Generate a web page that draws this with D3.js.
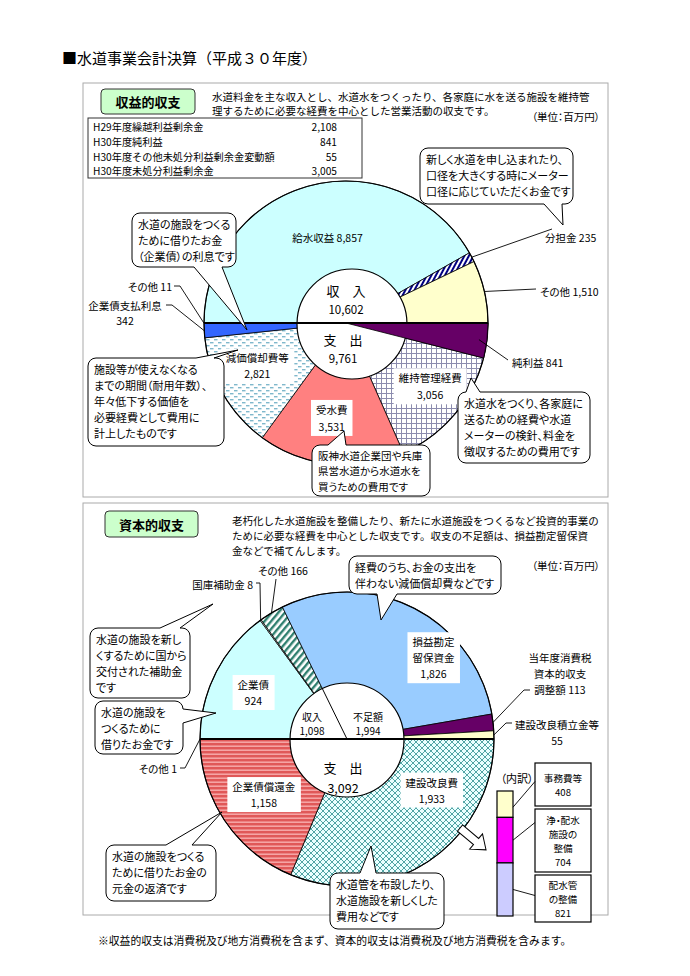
<!DOCTYPE html>
<html>
<head>
<meta charset="utf-8">
<script src="https://cdn.jsdelivr.net/npm/d3@7"></script>
<style>
body { margin: 0; background: #fff; }
text { font-family: "Noto Sans CJK JP", "Noto Sans", sans-serif; fill: #000; font-feature-settings: "palt"; }
text.wide { font-feature-settings: normal; }
</style>
</head>
<body>
<div id="chart"></div>
<script>
// 収益的収支 (上の円)
var incomeLabels = ["給水収益", "分担金", "その他"];
var incomeValues = [8857, 235, 1510];
var expenseLabels = ["純利益", "維持管理経費", "受水費", "減価償却費等", "企業債支払利息", "その他"];
var expenseValues = [841, 3056, 3531, 2821, 342, 11];
var incomeTotal = "10,602";
var expenseTotal = "9,761";

// 資本的収支 (下の円)
var capInLabels = ["企業債", "国庫補助金", "その他", "損益勘定留保資金", "当年度消費税資本的収支調整額", "建設改良積立金等"];
var capInValues = [924, 8, 166, 1826, 113, 55];
var capOutLabels = ["建設改良費", "企業債償還金", "その他"];
var capOutValues = [1933, 1158, 1];
var capInTotal = "1,098";
var shortTotal = "1,994";
var capOutTotal = "3,092";

// 建設改良費の内訳
var detailLabels = ["事務費等", "浄・配水施設の整備", "配水管の整備"];
var detailValues = [408, 704, 821];

// 利益剰余金の表
var tableLabels = ["H29年度繰越利益剰余金", "H30年度純利益", "H30年度その他未処分利益剰余金変動額", "H30年度未処分利益剰余金"];
var tableValues = ["2,108", "841", "55", "3,005"];

var incomeFills = ["#ccffff", "url(#pBundan)", "#ffffcc"];
var expenseFills = ["#660066", "url(#pGrid)", "#ff8080", "url(#pDots)", "#3366ff", "#3366ff"];
var capInFills = ["#ccffff", "#ffffff", "url(#pGreen)", "#99ccff", "#660066", "#ffffcc"];
var capOutFills = ["url(#pCross)", "url(#pRed)", "#ff8080"];
var detailFills = ["#ffffcc", "#ff00ff", "#ccccff"];

var fmt = d3.format(",");

var svg = d3.select("#chart").append("svg")
    .attr("width", 690)
    .attr("height", 976);

svg.append("rect").attr("width", 690).attr("height", 976).attr("fill", "#fff");

//patterns
var defs = svg.append("defs");
function pattern(id, w, h, bg, transform) {
    var p = defs.append("pattern").attr("id", id)
        .attr("patternUnits", "userSpaceOnUse")
        .attr("width", w).attr("height", h);
    if (transform) p.attr("patternTransform", transform);
    p.append("rect").attr("width", w).attr("height", h).attr("fill", bg);
    return p;
}
pattern("pBundan", 4, 4, "#fff", "rotate(28)")
    .append("rect").attr("width", 2).attr("height", 4).attr("fill", "#000080");
pattern("pGrid", 5, 5, "#fff")
    .append("path").attr("d", "M0 0.5H5M0.5 0V5").attr("stroke", "#8c8cae").attr("stroke-width", 1);
var pd = pattern("pDots", 8, 6, "#fff");
pd.append("rect").attr("x", 0).attr("y", 1).attr("width", 3.5).attr("height", 1.4).attr("fill", "#7fb8cc");
pd.append("rect").attr("x", 4).attr("y", 4).attr("width", 3.5).attr("height", 1.4).attr("fill", "#7fb8cc");
pattern("pCross", 6, 6, "#eaffff")
    .append("path").attr("d", "M0 0L6 6M6 0L0 6").attr("stroke", "#3f9a9a").attr("stroke-width", 0.9);
pattern("pRed", 4, 4, "#e05858")
    .append("rect").attr("y", 2.6).attr("width", 4).attr("height", 1.1).attr("fill", "#ffc4c4");
pattern("pGreen", 5, 5, "#fff", "rotate(40)")
    .append("rect").attr("width", 2.4).attr("height", 5).attr("fill", "#2f7f6f");

function polar(c, r, a) {
    return [c[0] + r * Math.sin(a), c[1] - r * Math.cos(a)];
}
function mid(d) {
    return (d.startAngle + d.endAngle) / 2;
}

function addText(parent, x, y, lines, o) {
    o = o || {};
    var size = o.size || 10;
    var lh = o.lh || 15;
    var grp = parent.append("g");
    var t = grp.append("text")
        .attr("class", o.wide ? "wide" : null)
        .attr("font-size", size)
        .attr("text-anchor", o.anchor || "middle")
        .attr("font-weight", o.bold ? "bold" : null);
    lines.forEach(function(s, i) {
        t.append("tspan")
            .attr("x", x)
            .attr("y", y + i * lh)
            .attr("dominant-baseline", "central")
            .text(s);
    });
    if (o.bg) {
        var b = t.node().getBBox();
        grp.insert("rect", "text")
            .attr("x", b.x - 5).attr("y", b.y - 2)
            .attr("width", b.width + 10).attr("height", b.height + 4)
            .attr("fill", "#fff");
    }
    return grp;
}

function leader(pts) {
    svg.append("path")
        .attr("d", d3.line()(pts))
        .attr("fill", "none")
        .attr("stroke", "#000")
        .attr("stroke-width", 0.9);
}

function callout(x, y, w, h, side, p1, p2, tip, lines, lh, size) {
    var r = 8, p = d3.path();
    p.moveTo(x + r, y);
    if (side == "top") { p.lineTo(x + p1, y); p.lineTo(tip[0], tip[1]); p.lineTo(x + p2, y); }
    p.lineTo(x + w - r, y);
    p.arcTo(x + w, y, x + w, y + r, r);
    if (side == "right") { p.lineTo(x + w, y + p1); p.lineTo(tip[0], tip[1]); p.lineTo(x + w, y + p2); }
    p.lineTo(x + w, y + h - r);
    p.arcTo(x + w, y + h, x + w - r, y + h, r);
    if (side == "bottom") { p.lineTo(x + p2, y + h); p.lineTo(tip[0], tip[1]); p.lineTo(x + p1, y + h); }
    p.lineTo(x + r, y + h);
    p.arcTo(x, y + h, x, y + h - r, r);
    if (side == "left") { p.lineTo(x, y + p2); p.lineTo(tip[0], tip[1]); p.lineTo(x, y + p1); }
    p.lineTo(x, y + r);
    p.arcTo(x, y, x + r, y, r);
    p.closePath();
    svg.append("path").attr("d", p.toString())
        .attr("fill", "#fff").attr("stroke", "#000").attr("stroke-width", 1);
    addText(svg, x + 6, y + 3 + lh / 2, lines, { size: size || 11, lh: lh, anchor: "start" });
}

function halfPie(g, values, fills, start, end, r) {
    var arcs = d3.pie().sort(null).startAngle(start).endAngle(end)(values);
    var arc = d3.arc().innerRadius(0).outerRadius(r);
    g.selectAll(null)
        .data(arcs)
        .enter()
        .append("path")
        .attr("d", arc)
        .attr("fill", function(d, i) { return fills[i]; })
        .attr("stroke", "#000")
        .attr("stroke-width", 0.8);
    return arcs;
}

// title
addText(svg, 62, 57, ["■水道事業会計決算（平成３０年度）"], { size: 15, anchor: "start", wide: true });

// panels
svg.append("rect").attr("x", 83).attr("y", 83).attr("width", 525).attr("height", 414)
    .attr("fill", "none").attr("stroke", "#aaa");
svg.append("rect").attr("x", 83).attr("y", 503).attr("width", 525).attr("height", 412)
    .attr("fill", "none").attr("stroke", "#aaa");

// ---------- 収益的収支 ----------
svg.append("rect").attr("x", 101).attr("y", 89).attr("width", 94).attr("height", 25).attr("rx", 4)
    .attr("fill", "#ccffcc").attr("stroke", "#333");
addText(svg, 148, 101.5, ["収益的収支"], { size: 13, bold: true });
addText(svg, 212, 96, ["水道料金を主な収入とし、水道水をつくったり、各家庭に水を送る施設を維持管",
    "理するために必要な経費を中心とした営業活動の収支です。"], { size: 10.5, anchor: "start", wide: true, lh: 14.5 });
addText(svg, 600, 116, ["（単位：百万円）"], { size: 10.5, anchor: "end" });

svg.append("rect").attr("x", 88).attr("y", 118).attr("width", 274).attr("height", 60)
    .attr("fill", "#fff").attr("stroke", "#333");
tableLabels.forEach(function(s, i) {
    addText(svg, 93, 126.8 + i * 14.7, [s], { size: 10.2, anchor: "start", wide: true });
    addText(svg, 337, 126.8 + i * 14.7, [tableValues[i]], { size: 10.2, anchor: "end" });
});

var TC = [346, 323], R1 = 142;
var g1 = svg.append("g").attr("transform", "translate(" + TC + ")");
var inArcs = halfPie(g1, incomeValues, incomeFills, -Math.PI / 2, Math.PI / 2, R1);
var exArcs = halfPie(g1, expenseValues, expenseFills, Math.PI / 2, Math.PI * 1.5, R1);
g1.append("circle").attr("r", R1).attr("fill", "none").attr("stroke", "#000").attr("stroke-width", 1.2);
g1.append("circle").attr("cx", 6).attr("cy", 1).attr("r", 55)
    .attr("fill", "#fff").attr("stroke", "#000").attr("stroke-width", 1.2);
// 純利益 is the gap between 収入 and 支出, drawn through the centre
g1.append("path")
    .attr("d", d3.arc().innerRadius(0).outerRadius(R1)(exArcs[0]))
    .attr("fill", expenseFills[0]).attr("stroke", "#000").attr("stroke-width", 0.8);
g1.append("line").attr("x1", -R1).attr("x2", R1).attr("stroke", "#000").attr("stroke-width", 2);

addText(svg, 346, 290, ["収　入"], { size: 13 });
addText(svg, 346, 309, [incomeTotal], { size: 11.5 });
addText(svg, 343, 339, ["支　出"], { size: 13 });
addText(svg, 343, 358, [expenseTotal], { size: 11.5 });

var p;
p = polar(TC, 88, mid(inArcs[0]));
addText(svg, p[0] + 4, p[1], [incomeLabels[0] + " " + fmt(incomeValues[0])], { size: 10.5 });
p = polar(TC, 100, mid(exArcs[3]));
addText(svg, p[0] - 2, p[1] - 15, [expenseLabels[3], fmt(expenseValues[3])], { bg: true, lh: 16, size: 10.5 });
p = polar(TC, 105, mid(exArcs[1]));
addText(svg, p[0] + 4, p[1] - 13, [expenseLabels[1], fmt(expenseValues[1])], { bg: true, lh: 17, size: 10.5 });
p = polar(TC, 96, mid(exArcs[2]));
addText(svg, p[0] - 4, p[1] - 9, [expenseLabels[2], fmt(expenseValues[2])], { bg: true, lh: 17, size: 10.5 });

// outside labels
leader([[552, 229], polar(TC, R1, mid(inArcs[1]))]);
addText(svg, 545, 237, [incomeLabels[1] + " " + fmt(incomeValues[1])], { anchor: "start", size: 10.5 });
leader([[536, 289], polar(TC, R1, mid(inArcs[2]))]);
addText(svg, 540, 291, [incomeLabels[2] + " " + fmt(incomeValues[2])], { anchor: "start", size: 10.5 });
leader([[508, 360], polar(TC, R1 - 8, mid(exArcs[0]))]);
addText(svg, 512, 362, [expenseLabels[0] + " " + fmt(expenseValues[0])], { anchor: "start", size: 10.5 });
leader([[174, 286], [180, 286], polar(TC, R1, mid(exArcs[5]))]);
addText(svg, 172, 286, [expenseLabels[5] + "  " + fmt(expenseValues[5])], { anchor: "end", size: 10.5 });
leader([[166, 305], [172, 305], polar(TC, R1, mid(exArcs[4]))]);
addText(svg, 125, 305, [expenseLabels[4], fmt(expenseValues[4])], { lh: 15.5, size: 10.5 });

callout(420, 148, 153, 56, "bottom", 124, 142, [563, 225],
    ["新しく水道を申し込まれたり、", "口径を大きくする時にメーター", "口径に応じていただくお金です"], 16);
callout(132, 213, 104, 54, "bottom", 62, 90, [247, 330],
    ["水道の施設をつくる", "ために借りたお金", "（企業債）の利息です"], 16);
callout(88, 358, 136, 88, "top", 108, 126, [238, 350],
    ["施設等が使えなくなる", "までの期間（耐用年数）、", "年々低下する価値を", "必要経費として費用に", "計上したものです"], 16);
callout(312, 445, 118, 51, "top", 16, 34, [344, 431],
    ["阪神水道企業団や兵庫", "県営水道から水道水を", "買うための費用です"], 15.3, 10.5);
callout(458, 392, 132, 71, "top", 8, 22, [471, 378],
    ["水道水をつくり、各家庭に", "送るための経費や水道", "メーターの検針、料金を", "徴収するための費用です"], 16);

// ---------- 資本的収支 ----------
svg.append("rect").attr("x", 105).attr("y", 511).attr("width", 93).attr("height", 26).attr("rx", 4)
    .attr("fill", "#ccffcc").attr("stroke", "#333");
addText(svg, 151.5, 524, ["資本的収支"], { size: 13, bold: true });
addText(svg, 232, 520, ["老朽化した水道施設を整備したり、新たに水道施設をつくるなど投資的事業の",
    "ために必要な経費を中心とした収支です。収支の不足額は、損益勘定留保資",
    "金などで補てんします。"], { size: 10.5, anchor: "start", wide: true });
addText(svg, 600, 565, ["（単位：百万円）"], { size: 10.5, anchor: "end" });

var BC = [347, 739], R2 = 147;
var g2 = svg.append("g").attr("transform", "translate(" + BC + ")");
var ciArcs = halfPie(g2, capInValues, capInFills, -Math.PI / 2, Math.PI / 2, R2);
var coArcs = halfPie(g2, capOutValues, capOutFills, Math.PI / 2, Math.PI * 1.5, R2);
g2.append("circle").attr("r", R2).attr("fill", "none").attr("stroke", "#000").attr("stroke-width", 1.2);
g2.append("circle").attr("cx", 0).attr("cy", 1).attr("r", 57)
    .attr("fill", "#fff").attr("stroke", "#000").attr("stroke-width", 1.2);
// 収入 / 不足額 の境目
var splitA = ciArcs[2].endAngle;
g2.append("line").attr("x2", 57 * Math.sin(splitA)).attr("y2", -57 * Math.cos(splitA))
    .attr("stroke", "#000").attr("stroke-width", 1);
g2.append("line").attr("x1", -R2).attr("x2", R2).attr("stroke", "#000").attr("stroke-width", 2);

addText(svg, 312, 716, ["収入", capInTotal], { size: 10, lh: 14.6 });
addText(svg, 368, 716, ["不足額", shortTotal], { size: 10, lh: 14.6 });
addText(svg, 343, 767, ["支　出"], { size: 13 });
addText(svg, 343, 787, [capOutTotal], { size: 12.5 });

p = polar(BC, 105, mid(ciArcs[0]));
addText(svg, p[0], p[1] - 7, [capInLabels[0], fmt(capInValues[0])], { bg: true, lh: 16, size: 10.5 });
p = polar(BC, 118, mid(ciArcs[3]) + 0.35);
addText(svg, p[0], p[1] - 17, ["損益勘定", "留保資金", fmt(capInValues[3])], { bg: true, lh: 16, size: 10.5 });
p = polar(BC, 100, mid(coArcs[1]));
addText(svg, p[0], p[1] - 8, [capOutLabels[1], fmt(capOutValues[1])], { bg: true, lh: 16, size: 10.5 });
p = polar(BC, 99, mid(coArcs[0]) - 0.44);
addText(svg, p[0], p[1] - 8, [capOutLabels[0], fmt(capOutValues[0])], { bg: true, lh: 16, size: 10.5 });

leader([[256, 583], [260, 583], polar(BC, R2, mid(ciArcs[1]))]);
addText(svg, 253, 584, [capInLabels[1] + " " + fmt(capInValues[1])], { anchor: "end", size: 10.5 });
leader([[276, 579], polar(BC, R2, mid(ciArcs[2]))]);
addText(svg, 258, 570, [capInLabels[2] + " " + fmt(capInValues[2])], { anchor: "start", size: 10.5 });
leader([[530, 690], [524, 690], polar(BC, R2, mid(ciArcs[4]))]);
addText(svg, 560, 657, ["当年度消費税", "資本的収支", "調整額 " + fmt(capInValues[4])], { lh: 16, size: 10.5 });
leader([[512, 723], [506, 723], polar(BC, R2, mid(ciArcs[5]))]);
addText(svg, 557, 724, [capInLabels[5], fmt(capInValues[5])], { lh: 16, size: 10.5 });
leader([[180, 768], [185, 768], polar(BC, R2, mid(coArcs[2]))]);
addText(svg, 177, 768, [capOutLabels[2] + " " + fmt(capOutValues[2])], { anchor: "end", size: 10.5 });

callout(349, 556, 152, 38, "bottom", 28, 48, [381, 620],
    ["経費のうち、お金の支出を", "伴わない減価償却費などです"], 16);
callout(90, 628, 100, 70, "top", 70, 90, [213, 604],
    ["水道の施設を新し", "くするために国から", "交付された補助金", "です"], 16);
callout(95, 701, 88, 53, "right", 8, 22, [216, 713],
    ["水道の施設を", "つくるために", "借りたお金です"], 16);
callout(106, 845, 110, 56, "top", 60, 86, [222, 812],
    ["水道の施設をつくる", "ために借りたお金の", "元金の返済です"], 16);
callout(330, 873, 114, 56, "top", 30, 46, [371, 846],
    ["水道管を布設したり、", "水道施設を新しくした", "費用などです"], 16);

// 内訳
svg.append("path")
    .attr("d", "M0 -4H21V-10L34 0L21 10V4H0Z")
    .attr("transform", "translate(460,828) rotate(40)")
    .attr("fill", "#fff").attr("stroke", "#000");

var barY = d3.scaleLinear()
    .domain([0, d3.sum(detailValues)])
    .range([791, 916]);
var cum = d3.cumsum(detailValues);
svg.selectAll(".detail")
    .data(detailValues)
    .enter()
    .append("rect")
    .attr("class", "detail")
    .attr("x", 497)
    .attr("width", 16)
    .attr("y", function(d, i) { return barY(cum[i] - d); })
    .attr("height", function(d) { return barY(d) - barY(0); })
    .attr("fill", function(d, i) { return detailFills[i]; })
    .attr("stroke", "#000")
    .attr("stroke-width", 1.2);
addText(svg, 517, 778, ["（内訳）"], { size: 11 });

var boxes = [[763, 43], [809, 63], [875, 47]];
var boxLines = [["事務費等"], ["浄・配水", "施設の", "整備"], ["配水管", "の整備"]];
boxes.forEach(function(b, i) {
    svg.append("rect").attr("x", 535).attr("y", b[0]).attr("width", 56).attr("height", b[1])
        .attr("fill", "#fff").attr("stroke", "#000").attr("stroke-width", 1.2);
    var lines = boxLines[i].concat([String(detailValues[i])]);
    var lh = 14;
    addText(svg, 563, b[0] + b[1] / 2 - (lines.length - 1) * lh / 2, lines, { size: 9.6, lh: lh });
    var yb = (barY(cum[i] - detailValues[i]) + barY(cum[i])) / 2;
    leader([[513, yb + (i == 0 ? 3 : 0)], [535, b[0] + b[1] / 2 - (i == 1 ? 18 : 3)]]);
});

addText(svg, 98, 940, ["※収益的収支は消費税及び地方消費税を含まず、資本的収支は消費税及び地方消費税を含みます。"], { size: 10.8, anchor: "start", wide: true });
</script>
</body>
</html>
